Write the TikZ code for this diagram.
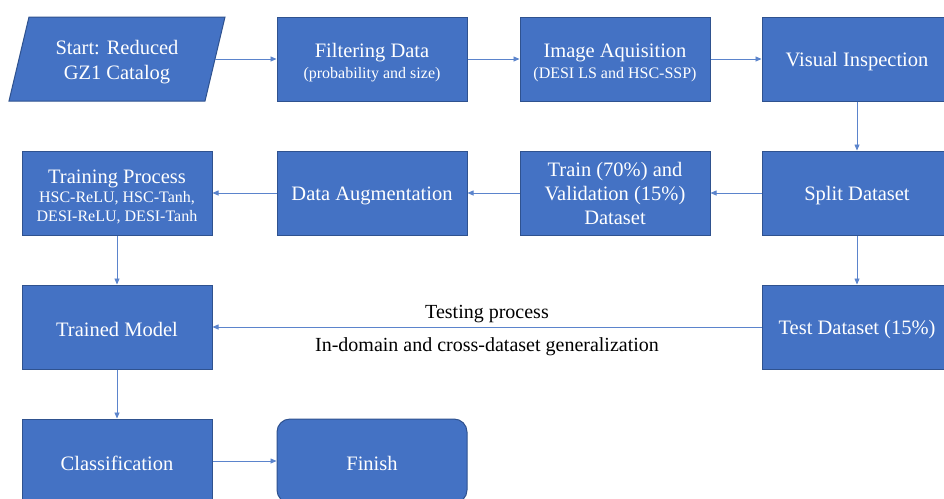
\documentclass[tikz,border=0pt]{standalone}
\usepackage{fontspec}
\setmainfont{Liberation Serif}
\usetikzlibrary{arrows.meta}
\definecolor{boxfill}{HTML}{4472C4}
\definecolor{boxline}{HTML}{2F528F}
\definecolor{conn}{HTML}{5B84CC}
\tikzset{
  box/.style={rectangle, fill=boxfill, draw=boxline, line width=1pt,
    minimum width=190pt, minimum height=84pt, inner sep=0pt, text=white,
    align=center, font=\fontsize{20.5}{24}\selectfont,
    execute at begin node={\rule{0pt}{19pt}}},
  plain/.style={rectangle, inner sep=0pt, text=white, align=center,
    minimum width=196pt, minimum height=84pt, font=\fontsize{20.5}{25}\selectfont},
  conn/.style={draw=conn, line width=0.8pt, -{Triangle[length=6pt,width=5pt]}},
  lbl/.style={text=black, font=\fontsize{20}{22}\selectfont}
}
\newcommand{\subtxt}[1]{{\fontsize{16}{19}\selectfont #1}}
\newcommand{\trtxt}[1]{{\fontsize{16}{19}\selectfont #1}}
\newcommand{\lowr}{\rule{0pt}{21pt}}
\begin{document}
\begin{tikzpicture}[x=1pt,y=-1pt]
\clip (0,0) rectangle (944,498);
\fill[white] (0,0) rectangle (944,498);
% start parallelogram
\fill[boxfill] (29,17) -- (225,17) -- (205,101) -- (9,101) -- cycle;
\draw[boxline, line width=1pt] (29,17) -- (225,17) -- (205,101) -- (9,101) -- cycle;
\node[plain] (start) at (117,59) {\lowr Start: Reduced\\GZ1 Catalog};
\node[box] (filter) at (372,59) {\lowr Filtering Data\\[-3pt]\subtxt{(probability and size)}};
\node[box] (image) at (615,59) {\lowr Image Aquisition\\[-3pt]\subtxt{(DESI LS and HSC-SSP)}};
\node[box] (visual) at (857,59) {Visual Inspection};
\node[box] (training) at (117,193) {\lowr Training Process\\[-5pt]\trtxt{HSC-ReLU, HSC-Tanh,}\\[-5pt]\trtxt{DESI-ReLU, DESI-Tanh}};
\node[box] (augment) at (372,193) {Data Augmentation};
\node[box] (trainval) at (615,193) {Train (70\%) and\\Validation (15\%)\\Dataset};
\node[box] (split) at (857,193) {Split Dataset};
\node[box] (model) at (117,327) {Trained Model};
\node[box] (test) at (857,327) {Test Dataset (15\%)};
\node[box] (classif) at (117,461) {Classification};
\node[box, rounded corners=13pt] (finish) at (372,461) {Finish};
% connectors
\draw[conn] (start.east) -- (filter.west);
\draw[conn] (filter) -- (image);
\draw[conn] (image) -- (visual);
\draw[conn] (visual) -- (split);
\draw[conn] (split) -- (trainval);
\draw[conn] (trainval) -- (augment);
\draw[conn] (augment) -- (training);
\draw[conn] (training) -- (model);
\draw[conn] (split) -- (test);
\draw[conn] (test) -- (model)
  node[lbl, midway, yshift=13pt] (tlbl) {Testing process}
  node[lbl, midway, yshift=-20pt] (glbl) {In-domain and cross-dataset generalization};
\draw[conn] (model) -- (classif);
\draw[conn] (classif) -- (finish);
\end{tikzpicture}
\end{document}
